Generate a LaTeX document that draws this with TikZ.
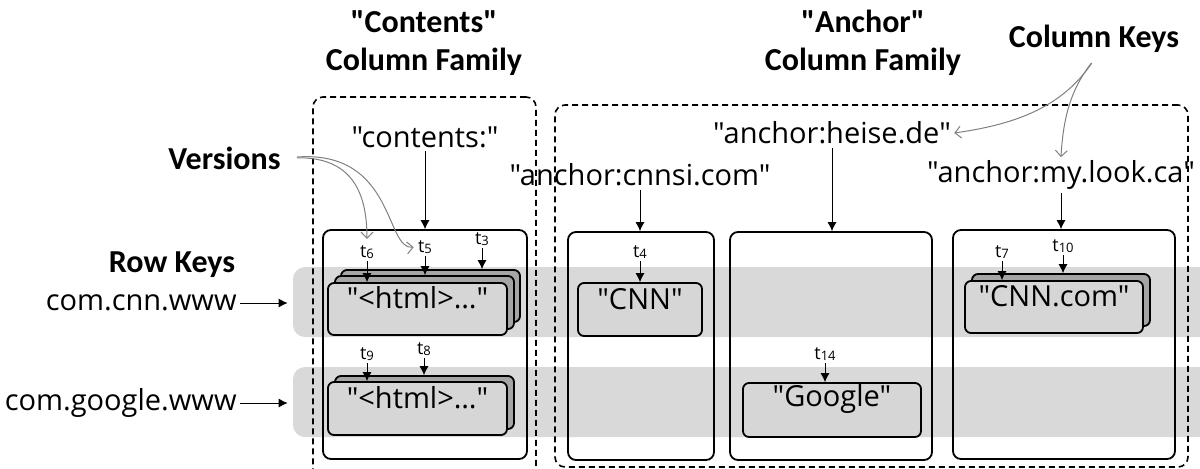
\documentclass[tikz,border=0pt]{standalone}
\usepackage{fontspec}
\setmainfont{Open Sans}[Ligatures=TeXOff]
\newfontfamily\titlefont{Carlito}
\usetikzlibrary{positioning,fit,arrows.meta}

\definecolor{bandgray}{RGB}{217,217,217}
\definecolor{cellgray}{RGB}{214,214,214}
\definecolor{layergray}{RGB}{165,165,165}
\definecolor{notegray}{RGB}{128,128,128}

\newcommand{\stampt}[1]{t\raisebox{-0.8pt}{\fontsize{6.5}{7}\selectfont #1}}

\begin{document}
\begin{tikzpicture}[x=0.5pt, y=-0.5pt,
title/.style={font=\titlefont\bfseries\fontsize{16}{19}\selectfont, align=center},
keylabel/.style={font=\fontsize{14.5}{16}\selectfont, inner sep=1.5pt},
verlabel/.style={font=\fontsize{9}{10}\selectfont, inner sep=1pt},
band/.style={fill=bandgray, rounded corners=6pt, inner sep=0pt},
family/.style={draw, dash pattern=on 3pt off 2pt, line width=0.8pt, rounded corners=5pt, inner sep=0pt},
column/.style={draw, line width=0.9pt, rounded corners=4pt, inner sep=0pt},
cell/.style={draw, line width=0.9pt, fill=cellgray, rounded corners=3pt, inner sep=0pt, font=\fontsize{14.5}{16}\selectfont},
layer/.style={cell, fill=layergray},
stamp/.style={-{Latex[length=4.5pt,width=4.5pt]}, line width=0.4pt},
note/.style={-{Straight Barb[length=3pt,width=6pt]}, draw=notegray, line width=0.5pt},
]
\useasboundingbox (0,0) rectangle (1200,468);

% rows
\node[band, fit={(293,267) (1215,337)}] (cnnrow)    {};
\node[band, fit={(293,367) (1215,437)}] (googlerow) {};

% column families
\node[family, fit={(313,97) (536,490)}]  (contentsfam) {};
\node[family, fit={(555,105) (1188,467)}] (anchorfam)  {};

\node[title]              (contentstitle) at (424,43)  {"Contents"\\Column Family};
\node[title]              (anchortitle)   at (863,43)  {"Anchor"\\Column Family};
\node[title]              (colkeys)       at (1094,39) {Column Keys};
\node[title, anchor=east, inner sep=1pt] (versions) at (283,158) {Versions};
\node[title]              (rowkeys)       at (172,265) {Row Keys};

% row keys
\node[keylabel, anchor=east] (cnnkey)    at (240,303) {com.cnn.www};
\node[keylabel, anchor=east] (googlekey) at (240,403) {com.google.www};
\draw[stamp, shorten >=2.5pt] (cnnkey) -- (cnnkey -| cnnrow.west);
\draw[stamp, shorten >=2.5pt] (googlekey) -- (googlekey -| googlerow.west);

% columns
\node[column, fit={(323,230) (527,459)}]  (contentscol) {};
\node[column, fit={(568,232) (714,460)}]  (cnnsicol)    {};
\node[column, fit={(730,232) (932,460)}]  (heisecol)    {};
\node[column, fit={(953,230) (1175,459)}] (lookcol)     {};

\node[keylabel] (contentskey) at (425,137)  {"contents:"};
\node[keylabel] (cnnsikey)    at (640,175)  {"anchor:cnnsi.com"};
\node[keylabel] (heisekey)    at (832,133)  {"anchor:heise.de"};
\node[keylabel] (lookkey)     at (1061,175) {"anchor:my.look.ca"};

\draw[stamp] (contentskey) -- (contentskey |- contentscol.north);
\draw[stamp] (cnnsikey) -- (cnnsikey |- cnnsicol.north);
\draw[stamp] (heisekey) -- (heisekey |- heisecol.north);
\draw[stamp] (lookkey) -- (lookkey |- lookcol.north);

% cells
\node[layer, fit={(341,270) (520,322)}] (html1c) {};
\node[layer, fit={(335,276) (514,329)}] (html1b) {};
\node[cell,  fit={(328,283) (507,335)}] (html1a) {"<html>…"};
\node[layer, fit={(335,376) (514,429)}] (html2b) {};
\node[cell,  fit={(328,382) (507,435)}] (html2a) {"<html>…"};
\node[cell,  fit={(578,283) (702,336)}] (cnncell)    {"CNN"};
\node[cell,  fit={(743,383) (921,437)}] (googlecell) {"Google"};
\node[layer, fit={(972,274) (1150,326)}] (cnncom2) {};
\node[cell,  fit={(965,281) (1143,333)}] (cnncom1) {"CNN.com"};

% timestamps
\node[verlabel] (t6)  at (367,252)  {\stampt{6}};
\node[verlabel] (t5)  at (425,247)  {\stampt{5}};
\node[verlabel] (t3)  at (482,239)  {\stampt{3}};
\node[verlabel] (t9)  at (367,354)  {\stampt{9}};
\node[verlabel] (t8)  at (424,349)  {\stampt{8}};
\node[verlabel] (t4)  at (640,252)  {\stampt{4}};
\node[verlabel] (t14) at (825,354)  {\stampt{14}};
\node[verlabel] (t7)  at (1002,252) {\stampt{7}};
\node[verlabel] (t10) at (1063,246) {\stampt{10}};

\draw[stamp] (t6) -- (t6 |- html1a.north);
\draw[stamp] (t5) -- (t5 |- html1b.north);
\draw[stamp] (t3) -- (t3 |- html1c.north);
\draw[stamp] (t9) -- (t9 |- html2a.north);
\draw[stamp] (t8) -- (t8 |- html2b.north);
\draw[stamp] (t4) -- (t4 |- cnncell.north);
\draw[stamp] (t14) -- (t14 |- googlecell.north);
\draw[stamp] (t7) -- (t7 |- cnncom1.north);
\draw[stamp] (t10) -- (t10 |- cnncom2.north);

% callouts
\draw[note, shorten <=7pt, shorten >=2pt] (versions.east) .. controls (350,157) and (367,190) .. (t6.north);
\draw[note, shorten <=7pt, shorten >=1pt] (versions.east) .. controls (395,150) and (385,250) .. (t5.west);
\draw[note, shorten <=2pt] (colkeys.south) .. controls (1060,110) and (1010,125) .. (heisekey.east);
\draw[note, shorten <=2pt] (colkeys.south) .. controls (1070,90) and (1063,120) .. (lookkey.north);

\end{tikzpicture}
\end{document}
